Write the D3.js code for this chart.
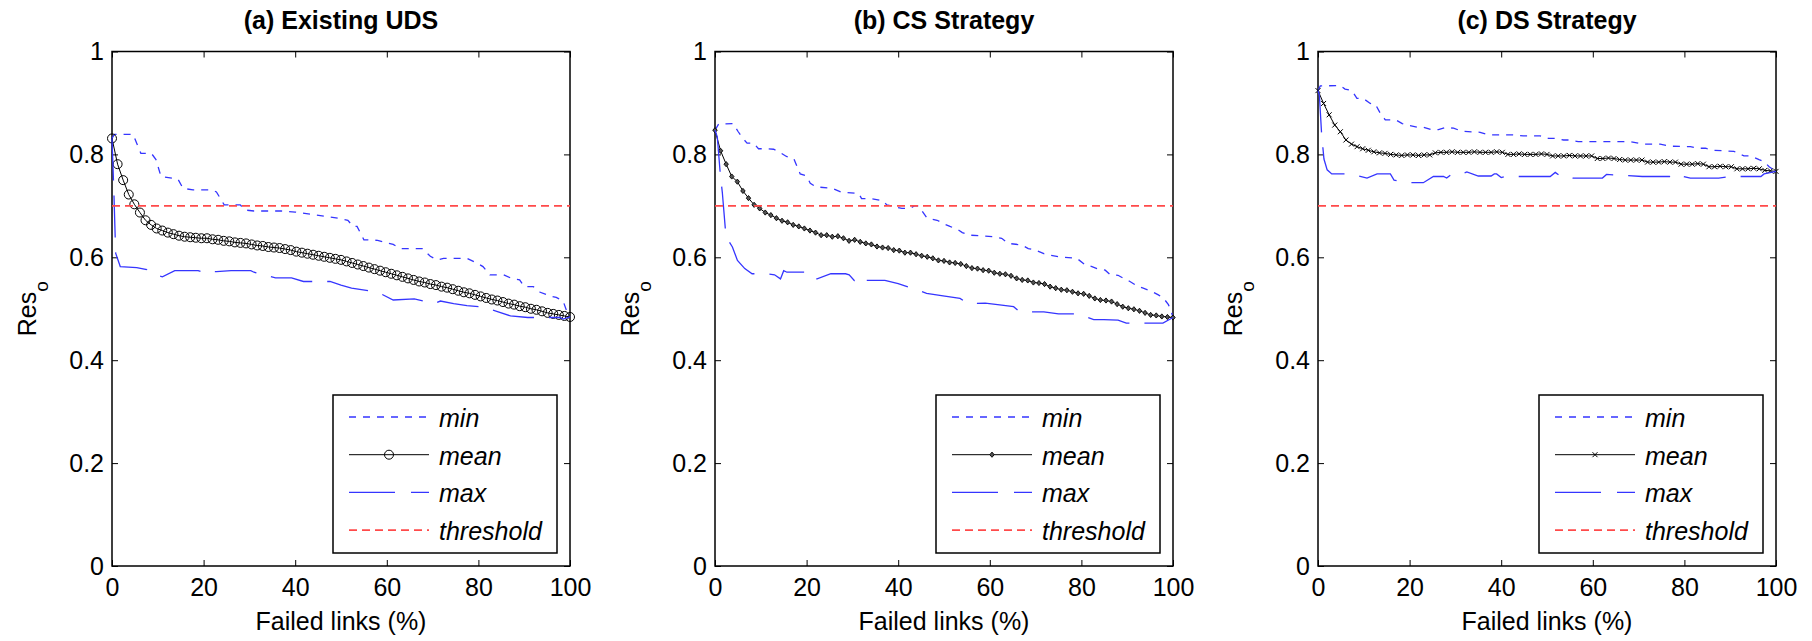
<!DOCTYPE html>
<html>
<head>
<meta charset="utf-8">
<script src="https://cdn.jsdelivr.net/npm/d3@7"></script>
<style>
  body { margin: 0; background: #fff; }
  svg { font-family: "Liberation Sans", Arial, Helvetica, sans-serif; }
</style>
</head>
<body>
<div id="chart"></div>
<script>
// ---- data ----
const xTicks = [0, 20, 40, 60, 80, 100];
const yTicks = [0, 0.2, 0.4, 0.6, 0.8, 1];
const yTickLabels = ["0", "0.2", "0.4", "0.6", "0.8", "1"];
const panelTitles = ["(a) Existing UDS", "(b) CS Strategy", "(c) DS Strategy"];
const legendLabels = ["min", "mean", "max", "threshold"];
const thresholdValue = 0.7;
const totalLinks = 82; // mean is sampled once per failed link (0..82)

// mean Res_o, one value per failed link
const meanA = [
  0.831, 0.781, 0.750, 0.722, 0.703, 0.687, 0.672, 0.663, 0.656, 0.652,
  0.648, 0.645, 0.642, 0.640, 0.639, 0.638, 0.637, 0.637, 0.635, 0.634,
  0.632, 0.631, 0.629, 0.628, 0.627, 0.625, 0.623, 0.622, 0.620, 0.619,
  0.618, 0.616, 0.614, 0.611, 0.609, 0.607, 0.605, 0.603, 0.601, 0.599,
  0.597, 0.595, 0.592, 0.589, 0.586, 0.583, 0.580, 0.577, 0.574, 0.571,
  0.568, 0.565, 0.562, 0.559, 0.556, 0.553, 0.551, 0.548, 0.546, 0.543,
  0.541, 0.538, 0.535, 0.532, 0.530, 0.527, 0.524, 0.521, 0.518, 0.516,
  0.513, 0.510, 0.508, 0.505, 0.503, 0.500, 0.498, 0.495, 0.492, 0.490,
  0.488, 0.486, 0.484
];
const meanB = [
  0.847, 0.807, 0.781, 0.757, 0.747, 0.729, 0.715, 0.702, 0.695, 0.687,
  0.682, 0.676, 0.671, 0.668, 0.663, 0.660, 0.656, 0.652, 0.648, 0.643,
  0.643, 0.640, 0.641, 0.637, 0.632, 0.634, 0.630, 0.627, 0.625, 0.621,
  0.619, 0.618, 0.614, 0.613, 0.609, 0.609, 0.606, 0.603, 0.601, 0.598,
  0.594, 0.593, 0.590, 0.589, 0.587, 0.583, 0.579, 0.578, 0.575, 0.574,
  0.570, 0.568, 0.567, 0.564, 0.559, 0.556, 0.555, 0.551, 0.550, 0.548,
  0.543, 0.540, 0.537, 0.536, 0.533, 0.530, 0.529, 0.525, 0.520, 0.517,
  0.516, 0.514, 0.509, 0.504, 0.501, 0.499, 0.496, 0.492, 0.488, 0.487,
  0.485, 0.484, 0.483
];
const meanC = [
  0.924, 0.899, 0.877, 0.857, 0.844, 0.828, 0.820, 0.815, 0.811, 0.808,
  0.805, 0.803, 0.802, 0.800, 0.799, 0.798, 0.799, 0.799, 0.798, 0.799,
  0.799, 0.803, 0.804, 0.804, 0.805, 0.804, 0.804, 0.804, 0.805, 0.804,
  0.804, 0.804, 0.805, 0.804, 0.800, 0.800, 0.801, 0.800, 0.800, 0.800,
  0.801, 0.800, 0.797, 0.797, 0.797, 0.798, 0.797, 0.797, 0.797, 0.797,
  0.792, 0.792, 0.793, 0.792, 0.790, 0.789, 0.789, 0.789, 0.789, 0.785,
  0.785, 0.785, 0.786, 0.785, 0.785, 0.781, 0.781, 0.781, 0.782, 0.781,
  0.776, 0.776, 0.777, 0.776, 0.776, 0.772, 0.772, 0.772, 0.773, 0.772,
  0.769, 0.768, 0.767
];

// min / max envelopes as [failed links %, Res_o] break points
const minA = [[0,0.831],[0.5,0.839],[4.6,0.839],[6.3,0.802],[8.6,0.802],[9.6,0.790],[10.7,0.757],[14.4,0.752],
  [15.5,0.734],[17.7,0.731],[21.8,0.731],[22.8,0.727],[24.5,0.702],[28,0.702],[29,0.692],[31,0.690],[37,0.690],
  [40,0.688],[44.6,0.682],[49.3,0.676],[51.5,0.672],[52.6,0.660],[53.5,0.660],[55,0.634],[58,0.633],[61.4,0.625],
  [63,0.617],[67.7,0.617],[69.5,0.602],[71,0.595],[72.4,0.598],[77.5,0.598],[79.6,0.589],[81,0.582],[82.5,0.566],
  [85.5,0.566],[87,0.560],[89,0.556],[90,0.543],[92,0.543],[93.5,0.532],[95.6,0.525],[97,0.522],[98.5,0.515],
  [99.5,0.490],[100,0.484]];
const maxA = [[0,0.831],[0.4,0.730],[0.8,0.608],[1.8,0.582],[5.4,0.580],[7.6,0.576],[8.4,0.569],[11,0.562],
  [13.7,0.574],[18.8,0.574],[19.8,0.571],[20.5,0.574],[21.3,0.572],[22.8,0.572],[26,0.574],[30.3,0.574],[31,0.571],
  [35.7,0.560],[39.2,0.560],[41.8,0.553],[47.6,0.553],[50,0.546],[52.3,0.540],[57.8,0.533],[58.5,0.530],[61.4,0.517],
  [66,0.519],[70.4,0.510],[71.7,0.515],[74.6,0.510],[77.5,0.506],[80.5,0.504],[84,0.495],[87,0.486],[90.8,0.483],
  [97.8,0.483],[98.5,0.480],[100,0.484]];
const minB = [[0,0.847],[0.8,0.859],[4,0.860],[5,0.845],[6,0.832],[7,0.822],[8.4,0.822],[9.5,0.811],[11.4,0.811],
  [12.8,0.810],[14,0.805],[15.6,0.796],[17.2,0.792],[18.6,0.762],[20,0.758],[20.8,0.744],[22,0.737],[25.6,0.734],
  [27.5,0.727],[31.4,0.724],[32,0.714],[34,0.714],[36.7,0.710],[37.5,0.702],[39.3,0.698],[40.8,0.695],[42.6,0.695],
  [43.5,0.700],[44.4,0.700],[46.3,0.676],[48.5,0.672],[50,0.665],[51.3,0.660],[53,0.654],[54,0.648],[55.7,0.643],
  [60.8,0.640],[62.6,0.637],[64,0.627],[67,0.624],[68.4,0.617],[70,0.614],[71.8,0.607],[73.3,0.604],[75,0.601],
  [79,0.598],[80.9,0.585],[82.3,0.582],[83.4,0.578],[85.2,0.575],[86.3,0.566],[88,0.565],[89.8,0.556],[90.6,0.553],
  [92.4,0.543],[93.5,0.540],[95.3,0.534],[96.8,0.527],[97.9,0.521],[99,0.508],[99.6,0.495],[100,0.483]];
const maxB = [[0,0.847],[0.5,0.834],[1.2,0.757],[1.6,0.726],[2.4,0.640],[3.8,0.620],[4.9,0.594],[6.5,0.578],
  [8.1,0.568],[11,0.568],[13,0.566],[14.3,0.558],[15,0.574],[15.7,0.571],[19.7,0.571],[20.5,0.561],[22.3,0.558],
  [25.3,0.568],[28.5,0.568],[29.3,0.566],[30.4,0.555],[31,0.561],[31.5,0.555],[37.1,0.555],[40,0.549],[43,0.540],
  [46.2,0.530],[49.8,0.525],[53.5,0.520],[55.3,0.510],[59,0.511],[62.6,0.507],[65.2,0.504],[66.3,0.496],[67,0.494],
  [71.8,0.494],[75,0.490],[79,0.490],[81,0.484],[82.7,0.479],[84.9,0.479],[88,0.478],[89.8,0.472],[97.8,0.472],
  [100,0.483]];
const minC = [[0,0.924],[0.5,0.933],[4.8,0.934],[5.9,0.927],[7.4,0.924],[8.5,0.909],[10,0.908],[11.4,0.899],
  [12.5,0.898],[13.6,0.880],[14.7,0.867],[17,0.867],[18.4,0.860],[19.5,0.857],[21.6,0.853],[23,0.853],[24.9,0.848],
  [26.3,0.848],[27.7,0.852],[29.6,0.851],[31.4,0.845],[35.4,0.843],[37.1,0.838],[42.6,0.838],[44.8,0.836],
  [48.5,0.836],[50.3,0.831],[52.1,0.831],[53.6,0.828],[55,0.828],[56.8,0.825],[68.1,0.825],[71,0.820],[74.7,0.820],
  [76.9,0.816],[81.3,0.815],[83.1,0.812],[84.6,0.812],[86.4,0.808],[90.8,0.806],[93,0.797],[94.5,0.797],
  [96.3,0.790],[97.4,0.786],[98.5,0.776],[100,0.767]];
const maxC = [[0,0.924],[0.3,0.915],[0.8,0.838],[1.3,0.791],[2,0.770],[3,0.762],[7.4,0.762],[9,0.758],[10.7,0.754],
  [12.9,0.762],[15.8,0.762],[16.6,0.750],[19.8,0.745],[23,0.745],[25.2,0.757],[27.4,0.757],[28.1,0.754],[29.2,0.762],
  [31.4,0.762],[32.5,0.766],[35,0.758],[37.8,0.758],[38.5,0.762],[39,0.762],[40,0.755],[40.8,0.757],[50.7,0.757],
  [51.8,0.765],[53,0.757],[55,0.757],[55.7,0.754],[62.1,0.754],[63,0.761],[65,0.760],[70.8,0.757],[76.8,0.757],
  [78.4,0.759],[79,0.762],[79.9,0.757],[81.3,0.754],[87.5,0.754],[90.1,0.757],[96.7,0.757],[97.4,0.762],[100,0.767]];

// ---- layout ----
const W = 1812, H = 641;
const plotW = 458, plotTop = 51.5, plotBottom = 566;
const panelLeft = [112, 715, 1318];
const fontSize = 25;

const panels = [
  { title: panelTitles[0], mean: meanA, min: minA, max: maxA, marker: "circle" },
  { title: panelTitles[1], mean: meanB, min: minB, max: maxB, marker: "diamond" },
  { title: panelTitles[2], mean: meanC, min: minC, max: maxC, marker: "x" }
];

const svg = d3.select("#chart")
  .append("svg")
  .attr("width", W)
  .attr("height", H);

const blue = "#3535ff";
const red = "#ff4a4a";

// draw one mean-marker at (0,0) into a selection
function addMarker(sel, type) {
  if (type === "circle") {
    sel.append("circle").attr("r", 4.5).attr("fill", "none").attr("stroke", "#000").attr("stroke-width", 1);
  } else if (type === "diamond") {
    sel.append("path").attr("d", "M0,-2.6L2.2,0L0,2.6L-2.2,0Z")
      .attr("fill", "#555").attr("stroke", "#000").attr("stroke-width", 0.9);
  } else {
    sel.append("path").attr("d", "M-2.5,-2.5L2.5,2.5M-2.5,2.5L2.5,-2.5")
      .attr("fill", "none").attr("stroke", "#000").attr("stroke-width", 1);
  }
}

panels.forEach(function (p, idx) {
  const left = panelLeft[idx];
  const x = d3.scaleLinear().domain([0, 100]).range([left, left + plotW]);
  const y = d3.scaleLinear().domain([0, 1]).range([plotBottom, plotTop]);
  const g = svg.append("g");

  // Axes (MATLAB style: ticks inward on all four sides)
  g.append("g")
    .attr("transform", `translate(0,${plotBottom})`)
    .call(d3.axisBottom(x).tickValues(xTicks).tickSize(-6).tickSizeOuter(0).tickPadding(12));
  g.append("g")
    .attr("transform", `translate(0,${plotTop})`)
    .call(d3.axisTop(x).tickValues(xTicks).tickSize(-6).tickSizeOuter(0).tickFormat(""));
  g.append("g")
    .attr("transform", `translate(${left},0)`)
    .call(d3.axisLeft(y).tickValues(yTicks).tickSize(-6).tickSizeOuter(0).tickPadding(8)
      .tickFormat((d, i) => yTickLabels[i]));
  g.append("g")
    .attr("transform", `translate(${left + plotW},0)`)
    .call(d3.axisRight(y).tickValues(yTicks).tickSize(-6).tickSizeOuter(0).tickFormat(""));

  g.selectAll(".domain").remove();
  g.selectAll(".tick line").attr("stroke", "#000").attr("stroke-width", 1);
  g.selectAll(".tick text").attr("font-size", fontSize).attr("fill", "#000")
    .attr("font-family", '"Liberation Sans", Arial, sans-serif');

  // Plot box
  g.append("rect")
    .attr("x", left).attr("y", plotTop)
    .attr("width", plotW).attr("height", plotBottom - plotTop)
    .attr("fill", "none").attr("stroke", "#000").attr("stroke-width", 1.5);

  // Title
  g.append("text")
    .attr("x", left + plotW / 2).attr("y", 29)
    .attr("text-anchor", "middle")
    .attr("font-size", fontSize).attr("font-weight", "bold")
    .text(p.title);

  // x-axis label
  g.append("text")
    .attr("x", left + plotW / 2).attr("y", 630)
    .attr("text-anchor", "middle")
    .attr("font-size", fontSize)
    .text("Failed links (%)");

  // y-axis label Res_o
  const yl = g.append("text")
    .attr("transform", `translate(${left - 76},${(plotTop + plotBottom) / 2}) rotate(-90)`)
    .attr("text-anchor", "middle")
    .attr("font-size", fontSize);
  yl.append("tspan").text("Res");
  yl.append("tspan").attr("dy", 12).attr("font-size", 19).text("o");

  const line = d3.line().x(d => x(d[0])).y(d => y(d[1]));
  const meanLine = d3.line().x((d, i) => x(i / totalLinks * 100)).y(d => y(d));

  // min (upper envelope)
  g.append("path").datum(p.min).attr("d", line)
    .attr("fill", "none").attr("stroke", blue).attr("stroke-width", 1.3)
    .attr("stroke-dasharray", "7,7");

  // mean with markers
  g.append("path").datum(p.mean).attr("d", meanLine)
    .attr("fill", "none").attr("stroke", "#000").attr("stroke-width", 1);
  const marks = g.append("g").selectAll("g")
    .data(p.mean).enter().append("g")
    .attr("transform", (d, i) => `translate(${x(i / totalLinks * 100)},${y(d)})`);
  addMarker(marks, p.marker);

  // max (lower envelope)
  g.append("path").datum(p.max).attr("d", line)
    .attr("fill", "none").attr("stroke", blue).attr("stroke-width", 1.3)
    .attr("stroke-dasharray", "42,15");

  // threshold
  g.append("line")
    .attr("x1", x(0)).attr("x2", x(100))
    .attr("y1", y(thresholdValue)).attr("y2", y(thresholdValue))
    .attr("stroke", red).attr("stroke-width", 1.6)
    .attr("stroke-dasharray", "8,5");

  // Legend
  const lgW = 224, lgH = 158;
  const lgX = left + plotW - 13 - lgW, lgY = plotBottom - 13 - lgH;
  const lg = g.append("g").attr("transform", `translate(${lgX},${lgY})`);
  lg.append("rect").attr("width", lgW).attr("height", lgH)
    .attr("fill", "#fff").attr("stroke", "#000").attr("stroke-width", 1.5);

  const styles = [
    { stroke: blue, dash: "7,7", w: 1.3 },
    { stroke: "#000", dash: null, w: 1 },
    { stroke: blue, dash: "46,16", w: 1.3 },
    { stroke: red, dash: "8,5", w: 1.6 }
  ];
  legendLabels.forEach(function (lab, i) {
    const ry = 22 + i * 37.7;
    const s = styles[i];
    const ln = lg.append("line")
      .attr("x1", 16).attr("x2", 96).attr("y1", ry).attr("y2", ry)
      .attr("stroke", s.stroke).attr("stroke-width", s.w);
    if (s.dash) ln.attr("stroke-dasharray", s.dash);
    if (i === 1) {
      const m = lg.append("g").attr("transform", `translate(56,${ry})`);
      addMarker(m, p.marker);
    }
    lg.append("text")
      .attr("x", 106).attr("y", ry + 10)
      .attr("font-size", fontSize).attr("font-style", "italic")
      .text(lab);
  });
});
</script>
</body>
</html>
